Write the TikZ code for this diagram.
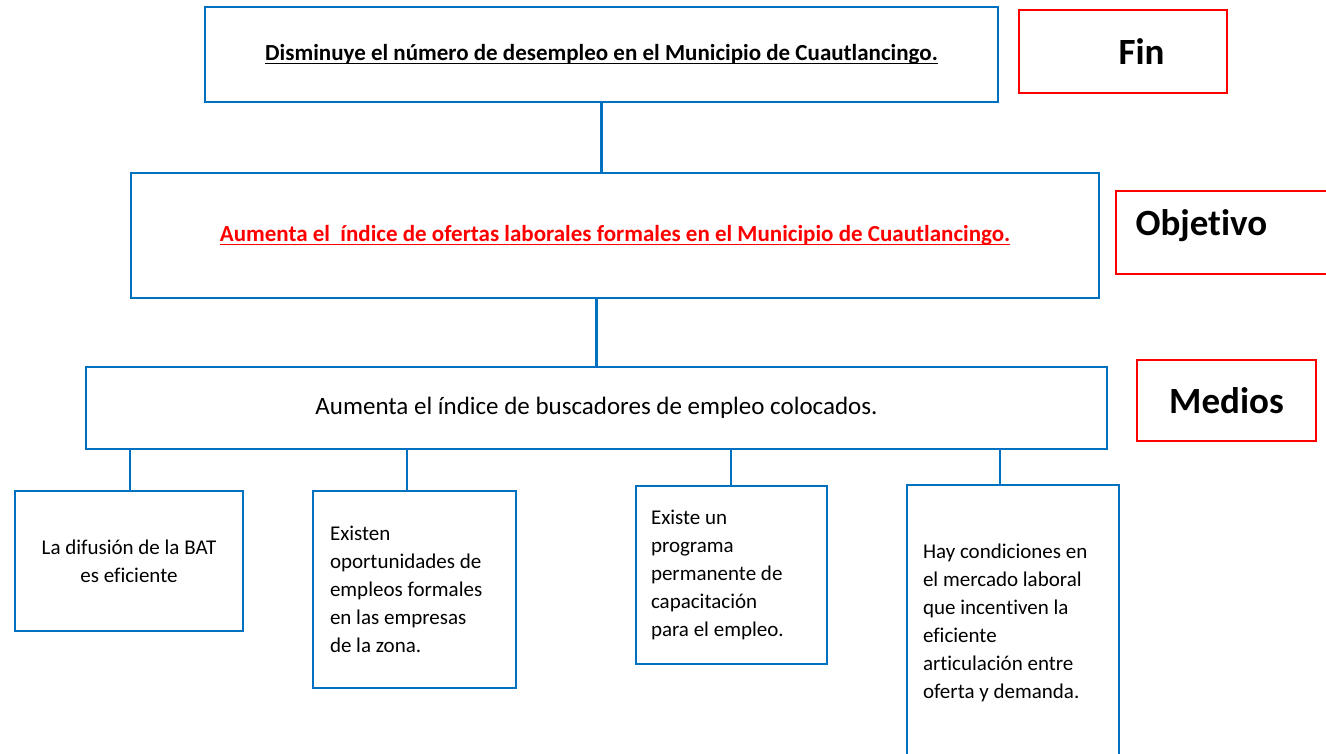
\documentclass[tikz,border=0pt]{standalone}
\usepackage{fontspec}
\setmainfont{Carlito}[Ligatures=NoCommon]
\usetikzlibrary{positioning}

\definecolor{boxblue}{RGB}{0,112,192}
\definecolor{tagred}{RGB}{255,0,0}

\newcommand{\ulined}[1]{\setbox0\hbox{#1}\rlap{\copy0}\rule[-3.5pt]{\wd0}{1.5pt}}

\tikzset{%
  every block/.style={
    rectangle,
    draw=boxblue,
    line width=2pt,
    inner sep=0pt
  },
  block cause/.style={
    font=\fontsize{21}{28}\selectfont,
    align=flush left
  },
  tag box/.style={
    rectangle,
    draw=tagred,
    line width=2pt,
    inner sep=0pt
  },
  tag text/.style={
    font=\fontsize{37}{42}\selectfont\bfseries
  },
  link/.style={
    draw=boxblue,
    line width=2.5pt
  },
}

\begin{document}
\begin{tikzpicture}[x=1pt, y=-1pt]
\useasboundingbox (0,0) rectangle (1326,753);

\node [every block, minimum width=793pt, minimum height=95pt,
  font=\fontsize{23}{27}\selectfont\bfseries] (fin) at (601.5,54.5)
  {\ulined{Disminuye el número de desempleo en el Municipio de Cuautlancingo.}};

\node [every block, minimum width=968pt, minimum height=125pt,
  font=\fontsize{23}{27}\selectfont\bfseries, text=tagred] (objetivo) at (615,235.5)
  {\ulined{Aumenta el\ \ índice de ofertas laborales formales en el Municipio de Cuautlancingo.}};

\node [every block, minimum width=1021pt, minimum height=82pt,
  font=\fontsize{25}{29}\selectfont] (medios) at (596.5,408)
  {Aumenta el índice de buscadores de empleo colocados.};

\node [every block, block cause, align=center, minimum width=228pt, minimum height=140pt]
  (cause-1) at (129,561) {La difusión de la BAT\\es eficiente};
\node [every block, block cause, text width=169pt, minimum width=203pt, minimum height=197pt]
  (cause-2) at (414.5,589.5) {Existen\\oportunidades de\\empleos formales\\en las empresas\\de la zona.};
\node [every block, block cause, text width=161pt, minimum width=191pt, minimum height=178pt]
  (cause-3) at (731.5,575) {Existe un\\programa\\permanente de\\capacitación\\para el empleo.};
\node [every block, block cause, text width=180pt, minimum width=212pt, minimum height=275pt]
  (cause-4) at (1013,622.5) {Hay condiciones en\\el mercado laboral\\que incentiven la\\eficiente\\articulación entre\\oferta y demanda.};

% level tags
\node [tag box, minimum width=208pt, minimum height=83pt] (fin-tag) at (1123,51.5) {};
\node [tag box, minimum width=244pt, minimum height=83pt] (objetivo-tag) at (1238,232.5) {};
\node [tag box, minimum width=179pt, minimum height=81pt] (medios-tag) at (1226.5,400.5) {};

\node [tag text, anchor=base west] (fin-label) at (1115,64) {Fin};
\node [tag text, anchor=base west] (objetivo-label) at (1132,235) {Objetivo};
\node [tag text, anchor=base] (medios-label) at (1226.5,413) {Medios};

% connectors
\draw [link] (fin.south) -- (fin.south |- objetivo.north);
\draw [link] (medios.north) -- (medios.north |- objetivo.south);

\foreach \i/\dx in {1/1,2/-7.5,3/-0.5,4/-13}
  \draw [link] ([xshift=\dx pt]cause-\i.north) -- ([xshift=\dx pt]cause-\i.north |- medios.south);

\end{tikzpicture}
\end{document}
